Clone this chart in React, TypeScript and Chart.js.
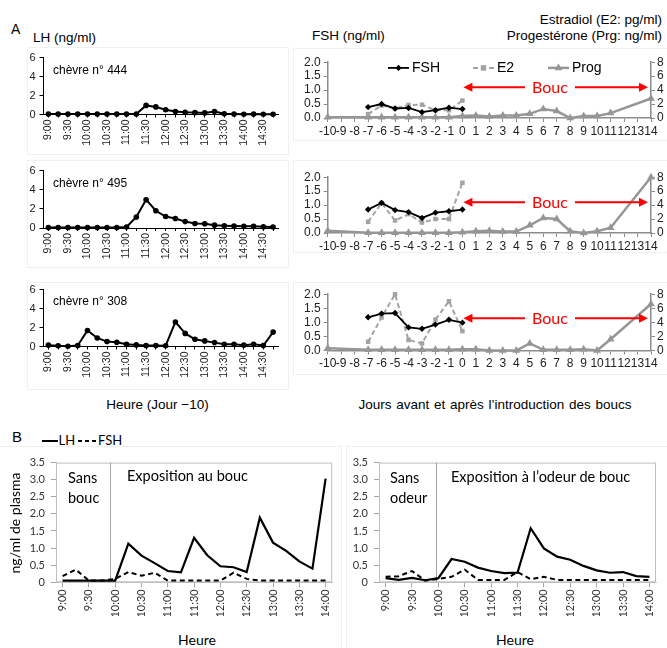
import React, { useEffect, useRef } from 'react';
import { Chart, registerables } from 'chart.js';

Chart.register(...registerables);

const ARIAL = "'Liberation Sans', Arial, sans-serif";
const CALIBRI = "Lato, 'Open Sans', sans-serif";

// ---------- Panel A (left): LH, day -10, sampling every 15 min ----------
const lhTimes = ['9:00', '9:15', '9:30', '9:45', '10:00', '10:15', '10:30', '10:45', '11:00', '11:15', '11:30', '11:45',
  '12:00', '12:15', '12:30', '12:45', '13:00', '13:15', '13:30', '13:45', '14:00', '14:15', '14:30', '14:45'];
const lhGoat444 = [0.05, 0.05, 0.05, 0.05, 0.05, 0.05, 0.05, 0.05, 0.05, 0.05, 0.96, 0.8, 0.5, 0.32, 0.24, 0.2, 0.17, 0.32, 0.07, 0.05, 0.03, 0.05, 0.03, 0.03];
const lhGoat495 = [0.05, 0.05, 0.05, 0.05, 0.05, 0.05, 0.05, 0.05, 0.1, 1.15, 2.96, 1.8, 1.2, 1.0, 0.67, 0.47, 0.44, 0.3, 0.24, 0.2, 0.17, 0.17, 0.13, 0.1];
const lhGoat308 = [0.14, 0.07, 0.03, 0.1, 1.69, 0.9, 0.52, 0.45, 0.24, 0.17, 0.1, 0.1, 0.07, 2.59, 1.38, 0.76, 0.59, 0.41, 0.24, 0.24, 0.14, 0.24, 0.1, 1.52];
const goatNames = ['chèvre n° 444', 'chèvre n° 495', 'chèvre n° 308'];

// ---------- Panel A (right): FSH, E2, progesterone by day ----------
const dayLabels = ['-10', '-9', '-8', '-7', '-6', '-5', '-4', '-3', '-2', '-1', '0', '1', '2', '3', '4', '5', '6', '7', '8', '9', '10', '11', '12', '13', '14'];
const fsh444 = [null, null, null, 0.39, 0.5, 0.34, 0.36, 0.21, 0.28, 0.37, 0.32, null, null, null, null, null, null, null, null, null, null, null, null, null, null];
const e2Goat444 = [null, null, null, 0.56, 1.8, 1.35, 1.87, 1.9, 1.1, 1.1, 2.5, null, null, null, null, null, null, null, null, null, null, null, null, null, null];
const prog444 = [0.1, null, null, 0.1, 0.1, 0.1, 0.1, 0.1, 0.1, 0.1, 0.3, 0.35, 0.2, 0.35, 0.35, 0.6, 1.3, 1.0, 0.0, 0.3, 0.3, 0.7, null, null, 2.8];
const fsh495 = [null, null, null, 0.84, 1.08, 0.82, 0.75, 0.54, 0.73, 0.78, 0.84, null, null, null, null, null, null, null, null, null, null, null, null, null, null];
const e2Goat495 = [null, null, null, 1.6, 4.3, 1.8, 2.7, 1.5, 2.0, 2.0, 7.2, null, null, null, null, null, null, null, null, null, null, null, null, null, null];
const prog495 = [0.33, null, null, 0.05, 0.05, 0.05, 0.05, 0.05, 0.05, 0.05, 0.1, 0.25, 0.33, 0.2, 0.2, 1.1, 2.15, 2.0, 0.25, 0.0, 0.25, 0.75, null, null, 8.0];
const fsh308 = [null, null, null, 1.18, 1.31, 1.33, 0.82, 0.77, 0.92, 1.09, 0.99, null, null, null, null, null, null, null, null, null, null, null, null, null, null];
const e2Goat308 = [null, null, null, 1.24, 4.7, 8.0, 1.5, 1.0, 4.4, 7.0, 2.76, null, null, null, null, null, null, null, null, null, null, null, null, null, null];
const prog308 = [0.32, null, null, 0.1, 0.1, 0.1, 0.1, 0.1, 0.1, 0.1, 0.18, 0.18, 0.0, 0.0, 0.0, 1.0, 0.1, 0.1, 0.1, 0.18, 0.0, 1.6, null, null, 6.6];
const boucLevels = [1.1, 1.1, 1.15]; // FSH-scale height of the "Bouc" arrow
const boucFromDay = '0';
const boucToDay = '14';
const boucTextDay = 6.5;

// ---------- Panel B: mean LH / FSH ----------
const bTimes = ['9:00', '9:15', '9:30', '9:45', '10:00', '10:15', '10:30', '10:45', '11:00', '11:15', '11:30', '11:45',
  '12:00', '12:15', '12:30', '12:45', '13:00', '13:15', '13:30', '13:45', '14:00'];
const lhBouc = [0.05, 0.05, 0.05, 0.05, 0.05, 1.13, 0.78, 0.56, 0.33, 0.29, 1.3, 0.79, 0.47, 0.44, 0.3, 1.89, 1.16, 0.92, 0.61, 0.4, 3.03];
const fshBouc = [0.18, 0.37, 0.05, 0.05, 0.1, 0.3, 0.19, 0.28, 0.05, 0.05, 0.05, 0.05, 0.05, 0.28, 0.1, 0.05, 0.05, 0.05, 0.05, 0.05, 0.05];
const lhOdeur = [0.12, 0.07, 0.13, 0.06, 0.12, 0.68, 0.6, 0.43, 0.33, 0.27, 0.28, 1.58, 0.99, 0.75, 0.66, 0.48, 0.35, 0.28, 0.3, 0.18, 0.16];
const fshOdeur = [0.16, 0.18, 0.33, 0.05, 0.1, 0.16, 0.37, 0.07, 0.07, 0.07, 0.3, 0.09, 0.16, 0.07, 0.07, 0.07, 0.07, 0.07, 0.07, 0.07, 0.07];
const separatorBouc = 3.6;  // category position of exposure start
const separatorOdeur = 3.8;

// ---------- plugins ----------
const framePlugin = {
  id: 'frame',
  beforeDatasetsDraw(chart: any, _a: any, o: any) {
    if (!o || !o.color) return;
    const { ctx, chartArea: a } = chart;
    ctx.save();
    ctx.strokeStyle = o.color;
    ctx.lineWidth = 1;
    ctx.strokeRect(a.left + 0.5, a.top + 0.5, a.right - a.left - 1, a.bottom - a.top - 1);
    if (o.separator != null) {
      const x = Math.round(chart.scales.x.getPixelForValue(o.separator)) + 0.5;
      ctx.strokeStyle = o.sepColor;
      ctx.beginPath();
      ctx.moveTo(x, a.top);
      ctx.lineTo(x, a.bottom);
      ctx.stroke();
    }
    ctx.restore();
  },
};

function drawMarker(ctx: any, style: string, x: number, y: number, r: number, color: string) {
  ctx.fillStyle = color;
  ctx.beginPath();
  if (style === 'rectRot') {
    ctx.moveTo(x, y - r); ctx.lineTo(x + r, y); ctx.lineTo(x, y + r); ctx.lineTo(x - r, y);
  } else if (style === 'rect') {
    const s = r * 0.85;
    ctx.rect(x - s, y - s, 2 * s, 2 * s);
  } else {
    ctx.moveTo(x, y - r); ctx.lineTo(x + r * 0.87, y + r * 0.5); ctx.lineTo(x - r * 0.87, y + r * 0.5);
  }
  ctx.closePath();
  ctx.fill();
}

const insideLegendPlugin = {
  id: 'insideLegend',
  afterDatasetsDraw(chart: any, _a: any, o: any) {
    if (!o || !o.offsets) return;
    const { ctx, chartArea } = chart;
    const y = chartArea.top + o.dy;
    chart.data.datasets.forEach((ds: any, i: number) => {
      const x = chartArea.left + o.offsets[i];
      ctx.save();
      ctx.strokeStyle = ds.borderColor;
      ctx.lineWidth = ds.borderWidth;
      ctx.setLineDash(ds.borderDash || []);
      ctx.beginPath();
      ctx.moveTo(x, y);
      ctx.lineTo(x + o.lineLen, y);
      ctx.stroke();
      ctx.setLineDash([]);
      drawMarker(ctx, ds.pointStyle, x + o.lineLen / 2, y, ds.pointRadius, ds.backgroundColor);
      ctx.fillStyle = '#000';
      ctx.font = `14px ${ARIAL}`;
      ctx.textBaseline = 'middle';
      ctx.textAlign = 'left';
      ctx.fillText(ds.label, x + o.lineLen + 3, y + 0.5);
      ctx.restore();
    });
  },
};

const boucArrowPlugin = {
  id: 'boucArrow',
  afterDatasetsDraw(chart: any, _a: any, o: any) {
    if (!o || o.level == null) return;
    const xs = chart.scales.x;
    const ys = chart.scales.y;
    const y = ys.getPixelForValue(o.level);
    const x0 = xs.getPixelForValue(o.from) + 1;
    const x1 = xs.getPixelForValue(o.to) - 3;
    const xc = xs.getPixelForValue(o.textAt);
    const ctx = chart.ctx;
    ctx.save();
    ctx.strokeStyle = '#ff0000';
    ctx.fillStyle = '#ff0000';
    ctx.lineWidth = 2;
    ctx.beginPath();
    ctx.moveTo(x0 + 6, y); ctx.lineTo(xc - o.gap, y);
    ctx.moveTo(xc + o.gap, y); ctx.lineTo(x1 - 6, y);
    ctx.stroke();
    ctx.beginPath();
    ctx.moveTo(x0, y); ctx.lineTo(x0 + 9, y - 4.5); ctx.lineTo(x0 + 9, y + 4.5); ctx.closePath();
    ctx.moveTo(x1, y); ctx.lineTo(x1 - 9, y - 4.5); ctx.lineTo(x1 - 9, y + 4.5); ctx.closePath();
    ctx.fill();
    ctx.font = `16px ${CALIBRI}`;
    ctx.textAlign = 'center';
    ctx.textBaseline = 'middle';
    ctx.fillText(o.text, xc, y + 0.5);
    ctx.restore();
  },
};

Chart.register(framePlugin as any, insideLegendPlugin as any, boucArrowPlugin as any);

// ---------- config builders ----------
const LH_PLOT_TOPS = [56, 169.5, 288];
const LH_PLOT_H = 58.5;

function lhConfig(values: number[], padTop: number, xHeight: number) {
  return {
    type: 'line',
    data: {
      labels: lhTimes,
      datasets: [{
        data: values, borderColor: '#000', backgroundColor: '#000', borderWidth: 2,
        pointRadius: 2.8, pointBorderWidth: 0, tension: 0, clip: false,
      }],
    },
    options: {
      animation: false, responsive: false, devicePixelRatio: 1,
      layout: { padding: { top: padTop, right: 12, left: 0, bottom: 0 } },
      plugins: { legend: { display: false }, tooltip: { enabled: false } },
      scales: {
        x: {
          type: 'category', offset: true,
          ticks: {
            autoSkip: false, minRotation: 90, maxRotation: 90, padding: 2, color: '#222',
            font: { family: ARIAL, size: 10.5 },
            callback: (_v: any, i: number) => (i % 2 === 0 ? lhTimes[i] : ''),
          },
          grid: { drawOnChartArea: false, tickLength: 3, color: '#000' },
          border: { color: '#000' },
          afterFit: (s: any) => { s.height = xHeight; },
        },
        y: {
          min: 0, max: 6,
          ticks: { stepSize: 2, autoSkip: false, padding: 4, color: '#222', font: { family: ARIAL, size: 11 } },
          grid: { drawOnChartArea: false, tickLength: 4, color: '#000' },
          border: { color: '#000' },
          afterFit: (s: any) => { s.width = 25.5; },
        },
      },
    },
  };
}

const HR_PLOT_TOPS = [61, 176, 293.5];
const HR_PLOT_H = 57;

function hormoneConfig(fsh: any[], e2: any[], prog: any[], level: number, withLegend: boolean, padTop: number, xHeight: number) {
  const tickFont = { family: ARIAL, size: 12 };
  return {
    type: 'line',
    data: {
      labels: dayLabels,
      datasets: [
        { label: 'FSH', data: fsh, yAxisID: 'y', borderColor: '#000', backgroundColor: '#000', borderWidth: 1.8, pointStyle: 'rectRot', pointRadius: 3.2, pointBorderWidth: 0, tension: 0, clip: false },
        { label: 'E2', data: e2, yAxisID: 'y2', borderColor: '#a3a3a3', backgroundColor: '#a3a3a3', borderWidth: 2, borderDash: [5, 3], pointStyle: 'rect', pointRadius: 3.2, pointBorderWidth: 0, tension: 0, clip: false },
        { label: 'Prog', data: prog, yAxisID: 'y2', borderColor: '#969696', backgroundColor: '#969696', borderWidth: 2.5, pointStyle: 'triangle', pointRadius: 4.5, pointBorderWidth: 0, spanGaps: true, tension: 0, clip: false },
      ],
    },
    options: {
      animation: false, responsive: false, devicePixelRatio: 1,
      layout: { padding: { top: padTop, right: 0, left: 0, bottom: 0 } },
      plugins: {
        legend: { display: false }, tooltip: { enabled: false },
        insideLegend: withLegend ? { offsets: [60.3, 145.3, 220.3], dy: 5.7, lineLen: 21 } : {},
        boucArrow: { level, from: dayLabels.indexOf(boucFromDay), to: dayLabels.indexOf(boucToDay), textAt: dayLabels.indexOf('0') + boucTextDay, gap: 25, text: 'Bouc' },
      },
      scales: {
        x: {
          type: 'category', offset: false,
          ticks: { autoSkip: false, minRotation: 0, maxRotation: 0, padding: 2, color: '#222', font: tickFont },
          grid: { drawOnChartArea: false, tickLength: 4, color: '#8c8c8c' },
          border: { color: '#8c8c8c', width: 1.5 },
          afterFit: (s: any) => { s.height = xHeight; },
        },
        y: {
          position: 'left', min: 0, max: 2,
          ticks: { stepSize: 0.5, autoSkip: false, padding: 3, color: '#222', font: tickFont, callback: (v: any) => Number(v).toFixed(1) },
          grid: { drawOnChartArea: false, tickLength: 4, color: '#8c8c8c' },
          border: { color: '#8c8c8c', width: 1.5 },
          afterFit: (s: any) => { s.width = 34.7; },
        },
        y2: {
          position: 'right', min: 0, max: 8,
          ticks: { stepSize: 2, autoSkip: false, padding: 2, color: '#222', font: tickFont },
          grid: { drawOnChartArea: false, tickLength: 4, color: '#8c8c8c' },
          border: { color: '#8c8c8c', width: 1.5 },
          afterFit: (s: any) => { s.width = 16; },
        },
      },
    },
  };
}

const showB = (l: string) => l.endsWith(':00') || l.endsWith(':30');

function pulseConfig(lh: number[], fsh: number[], sep: number, yWidth: number, padRight: number) {
  const tickFont = { family: CALIBRI, size: 11 };
  return {
    type: 'line',
    data: {
      labels: bTimes,
      datasets: [
        { label: 'LH', data: lh, borderColor: '#000', borderWidth: 2.2, pointRadius: 0, tension: 0 },
        { label: 'FSH', data: fsh, borderColor: '#000', borderWidth: 2, borderDash: [5, 3.5], pointRadius: 0, tension: 0 },
      ],
    },
    options: {
      animation: false, responsive: false, devicePixelRatio: 1,
      layout: { padding: { top: 9.3, right: padRight, left: 0, bottom: 0 } },
      plugins: {
        legend: { display: false }, tooltip: { enabled: false },
        frame: { color: '#bfbfbf', separator: sep, sepColor: '#a6a6a6' },
      },
      scales: {
        x: {
          type: 'category', offset: true,
          ticks: {
            autoSkip: false, minRotation: 90, maxRotation: 90, padding: 2, color: '#333', font: tickFont,
            callback: (_v: any, i: number) => (showB(bTimes[i]) ? bTimes[i] : ''),
          },
          grid: {
            drawOnChartArea: false, offset: false, tickLength: 5,
            color: (c: any) => (c.index != null && showB(bTimes[c.index] || '') ? '#a6a6a6' : 'rgba(0,0,0,0)'),
          },
          border: { color: '#bfbfbf' },
          afterFit: (s: any) => { s.height = 33.7; },
        },
        y: {
          min: 0, max: 3.5,
          ticks: { stepSize: 0.5, autoSkip: false, padding: 6, color: '#333', font: tickFont },
          grid: { drawOnChartArea: false, tickLength: 5, color: '#a6a6a6' },
          border: { color: '#bfbfbf' },
          afterFit: (s: any) => { s.width = yWidth; },
        },
      },
    },
  };
}

// ---------- components ----------
type Box = { left: number; top: number; width: number; height: number };

function ChartCanvas({ box, make }: { box: Box; make: () => any }) {
  const ref = useRef<HTMLCanvasElement | null>(null);
  useEffect(() => {
    if (!ref.current) return;
    const chart = new Chart(ref.current, make());
    return () => chart.destroy();
  }, []);
  return (
    <canvas
      ref={ref}
      width={box.width}
      height={box.height}
      style={{ position: 'absolute', left: box.left, top: box.top, width: box.width, height: box.height }}
    />
  );
}

function Txt({ x, top, size, family, children, align, color, extra }: any) {
  const style: any = {
    position: 'absolute', top, fontSize: size, fontFamily: family, lineHeight: 1, whiteSpace: 'nowrap', color: color || '#000',
    ...(extra || {}),
  };
  if (align === 'right') style.right = x;
  else if (align === 'center') { style.left = x; style.transform = 'translateX(-50%)'; }
  else style.left = x;
  return <div style={style}>{children}</div>;
}

const faint = '#f0f0f0';

export default function App() {
  const lhSeries = [lhGoat444, lhGoat495, lhGoat308];
  const hr = [
    [fsh444, e2Goat444, prog444],
    [fsh495, e2Goat495, prog495],
    [fsh308, e2Goat308, prog308],
  ];
  return (
    <div style={{ position: 'fixed', left: 0, top: 0, width: 667, height: 648, background: '#fff', overflow: 'hidden' }}>
      {/* faint chart boxes */}
      {[47, 160, 282].map((t, k) => (
        <div key={'lb' + k} style={{ position: 'absolute', left: 27, top: t, width: 260, height: 106, border: `1px solid ${faint}` }} />
      ))}
      {[48, 160, 282].map((t, k) => (
        <div key={'rb' + k} style={{ position: 'absolute', left: 293, top: t, width: 380, height: 91, border: `1px solid ${faint}` }} />
      ))}
      <div style={{ position: 'absolute', left: -2, top: 446, width: 342, height: 210, border: `1px solid ${faint}` }} />
      <div style={{ position: 'absolute', left: 346, top: 446, width: 330, height: 210, border: `1px solid ${faint}` }} />

      {/* Panel A headings */}
      <Txt x={11} top={22.1} size={14} family={ARIAL}>A</Txt>
      <Txt x={33} top={30.6} size={13.5} family={ARIAL}>LH (ng/ml)</Txt>
      <Txt x={312} top={28.7} size={13.5} family={ARIAL}>FSH (ng/ml)</Txt>
      <Txt x={5} top={12.9} size={13.5} family={ARIAL} align="right">Estradiol (E2: pg/ml)</Txt>
      <Txt x={5} top={28.7} size={13.5} family={ARIAL} align="right">Progestérone (Prg: ng/ml)</Txt>

      {LH_PLOT_TOPS.map((pt, k) => {
        const top = Math.floor(pt) - 9;
        const padTop = pt - top;
        const h = 104;
        return (
          <ChartCanvas
            key={'lh' + k}
            box={{ left: 18, top, width: 272, height: h }}
            make={() => lhConfig(lhSeries[k], padTop, h - padTop - LH_PLOT_H)}
          />
        );
      })}
      {[70, 183, 301].map((c, k) => (
        <Txt key={'g' + k} x={53} top={c - 5.9} size={12} family={ARIAL}>{goatNames[k]}</Txt>
      ))}

      {HR_PLOT_TOPS.map((pt, k) => {
        const top = Math.floor(pt) - 9;
        const padTop = pt - top;
        const h = 90;
        return (
          <ChartCanvas
            key={'hr' + k}
            box={{ left: 293, top, width: 374, height: h }}
            make={() => hormoneConfig(hr[k][0], hr[k][1], hr[k][2], boucLevels[k], k === 0, padTop, h - padTop - HR_PLOT_H)}
          />
        );
      })}

      <Txt x={157.5} top={397.9} size={13.5} family={ARIAL} align="center">Heure (Jour −10)</Txt>
      <Txt x={495} top={397.9} size={13.5} family={ARIAL} align="center" extra={{ wordSpacing: 1 }}>Jours avant et après l’introduction des boucs</Txt>

      {/* Panel B */}
      <Txt x={12} top={428.6} size={15} family={ARIAL}>B</Txt>
      <svg style={{ position: 'absolute', left: 40, top: 436 }} width={60} height={10}>
        <line x1={2} y1={5} x2={18} y2={5} stroke="#000" strokeWidth={2} />
        <line x1={38} y1={5} x2={57} y2={5} stroke="#000" strokeWidth={2} strokeDasharray="4 3" />
      </svg>
      <Txt x={58.5} top={433.6} size={13} family={CALIBRI}>LH</Txt>
      <Txt x={98} top={433.6} size={13} family={CALIBRI}>FSH</Txt>

      <ChartCanvas box={{ left: 0, top: 450, width: 341, height: 166 }} make={() => pulseConfig(lhBouc, fshBouc, separatorBouc, 56, 8)} />
      <ChartCanvas box={{ left: 343, top: 450, width: 324, height: 166 }} make={() => pulseConfig(lhOdeur, fshOdeur, separatorOdeur, 36, 11)} />

      <div style={{ position: 'absolute', left: 15, top: 522.5, transform: 'translate(-50%, -50%) rotate(-90deg)', fontFamily: CALIBRI, fontSize: 14, lineHeight: 1, whiteSpace: 'nowrap' }}>ng/ml de plasma</div>

      <div style={{ position: 'absolute', left: 68, top: 467.6, fontFamily: CALIBRI, fontSize: 14.5, lineHeight: '20px' }}>Sans<br />bouc</div>
      <Txt x={127} top={469} size={14.5} family={CALIBRI}>Exposition au bouc</Txt>
      <div style={{ position: 'absolute', left: 390, top: 467.6, fontFamily: CALIBRI, fontSize: 14.5, lineHeight: '20px' }}>Sans<br />odeur</div>
      <Txt x={451} top={470.3} size={14.5} family={CALIBRI}>Exposition à l’odeur de bouc</Txt>

      <Txt x={197} top={632.6} size={14} family={CALIBRI} align="center">Heure</Txt>
      <Txt x={515} top={632.6} size={14} family={CALIBRI} align="center">Heure</Txt>
    </div>
  );
}
